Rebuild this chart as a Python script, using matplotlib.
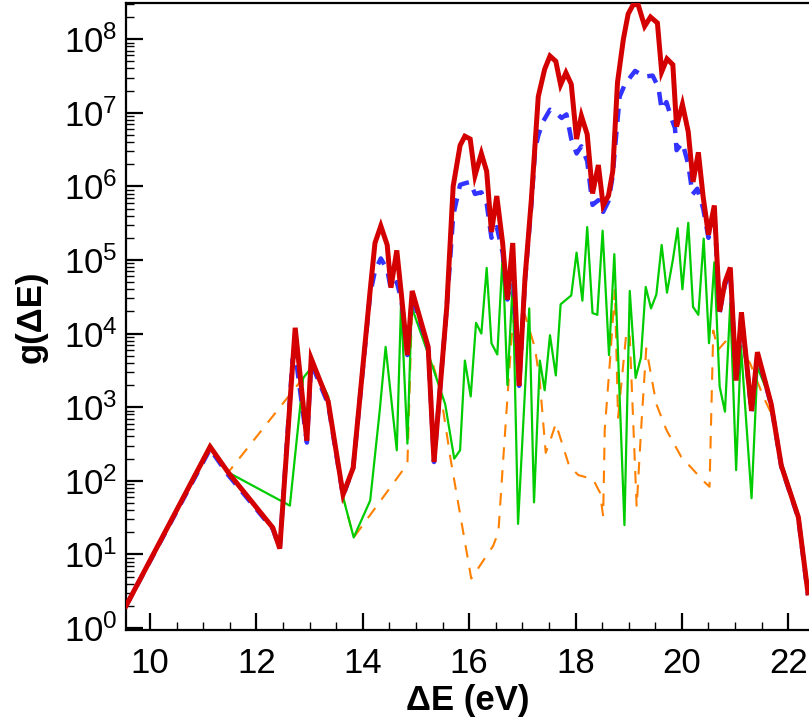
import matplotlib
matplotlib.use("Agg")
import matplotlib.pyplot as plt
from matplotlib.ticker import FixedLocator, LogLocator, MultipleLocator, NullFormatter

# ---------------- data ----------------
red_x = [9.55, 11.13, 11.47, 12.31, 12.44, 12.73, 12.95, 13.03, 13.35, 13.63, 13.82,
         14.14, 14.23, 14.34, 14.46, 14.53, 14.64, 14.73, 14.84, 14.93, 15.23, 15.34,
         15.58, 15.70, 15.83, 15.92, 16.02, 16.11, 16.23, 16.33, 16.42, 16.52, 16.63,
         16.72, 16.82, 16.94, 17.05, 17.17, 17.30, 17.42, 17.52, 17.63, 17.72, 17.82,
         17.92, 18.02, 18.11, 18.22, 18.32, 18.43, 18.52, 18.62, 18.70, 18.79, 18.90,
         18.99, 19.09, 19.18, 19.30, 19.41, 19.54, 19.62, 19.72, 19.83, 19.90, 20.01,
         20.12, 20.21, 20.31, 20.40, 20.50, 20.61, 20.71, 20.81, 20.91, 21.02, 21.12,
         21.31, 21.42, 21.68, 21.87, 22.19, 22.37]
red_y = [2.0, 290, 130, 23, 12, 1.2e4, 350, 4600, 1200, 65, 150,
         3.9e4, 1.7e5, 2.9e5, 1.6e5, 4.2e4, 1.35e5, 3.2e4, 5100, 3.8e4, 6600, 180,
         2.3e4, 1.0e6, 3.6e6, 4.8e6, 4.4e6, 1.4e6, 2.8e6, 1.6e6, 2.4e5, 7.4e5, 1.7e5,
         2.9e4, 1.7e5, 1950, 5.6e4, 6.6e5, 1.66e7, 3.9e7, 5.9e7, 5.0e7, 2.4e7, 3.5e7,
         2.45e7, 4.4e6, 9.1e6, 5.1e6, 8.0e5, 1.95e6, 5.5e5, 7.5e5, 1.6e6, 2.6e7, 1.0e8,
         2.2e8, 3.0e8, 2.9e8, 1.5e8, 2.0e8, 1.66e8, 3.6e7, 5.4e7, 4.5e7, 6.5e6, 1.3e7,
         5.5e6, 1.15e6, 2.9e6, 7.2e5, 2.2e5, 5.5e5, 2.0e4, 5.0e4, 7.9e4, 2300, 1.95e4,
         890, 5600, 1100, 160, 32, 3.0]

blue_x = [9.55, 11.13, 11.47, 12.31, 12.44, 12.68, 12.73, 12.95, 13.03, 13.35, 13.63,
          13.82, 14.14, 14.23, 14.34, 14.46, 14.53, 14.64, 14.73, 14.84, 14.93, 15.23,
          15.34, 15.58, 15.70, 15.83, 15.92, 16.02, 16.11, 16.23, 16.33, 16.42, 16.52,
          16.63, 16.72, 16.82, 16.94, 17.05, 17.17, 17.24, 17.30, 17.39, 17.52, 17.63,
          17.74, 17.83, 17.92, 18.02, 18.11, 18.22, 18.32, 18.43, 18.52, 18.62, 18.70,
          18.74, 18.83, 18.93, 19.12, 19.30, 19.45, 19.56, 19.62, 19.71, 19.80, 19.87,
          19.90, 20.01, 20.12, 20.20, 20.29, 20.40, 20.50, 20.61, 20.71, 20.81, 20.91,
          21.02, 21.12, 21.31, 21.42, 21.68, 21.87, 22.19, 22.37]
blue_y = [2.0, 270, 120, 22, 12, 4400, 5400, 330, 4000, 1100, 62,
          150, 3.5e4, 7.1e4, 1.05e5, 7.4e4, 4.0e4, 5.0e4, 2.8e4, 5100, 3.2e4, 6300,
          180, 2.3e4, 4.0e5, 1.05e6, 1.1e6, 1.15e6, 7.9e5, 8.3e5, 5.8e5, 2.0e5, 2.8e5,
          1.26e5, 2.9e4, 7.1e4, 1950, 5.2e4, 5.6e5, 3.1e6, 4.9e6, 7.6e6, 1.1e7, 1.0e7,
          8.5e6, 9.5e6, 4.4e6, 2.8e6, 3.5e6, 2.2e6, 5.6e5, 6.5e5, 4.5e5, 6.3e5, 1.4e6,
          3.1e6, 1.66e7, 2.45e7, 3.7e7, 3.1e7, 3.2e7, 2.2e7, 1.1e7, 1.4e7, 8.5e6, 6.2e6,
          3.1e6, 3.9e6, 2.0e6, 7.8e5, 9.3e5, 5.0e5, 2.0e5, 4.5e5, 1.95e4, 4.6e4, 7.1e4,
          2100, 1.8e4, 850, 5200, 1070, 155, 31, 2.8]

green_x = [9.55, 11.13, 11.47, 12.63, 12.88, 13.07, 13.35, 13.63, 13.83, 14.14, 14.32,
           14.43, 14.64, 14.72, 14.84, 14.92, 15.26, 15.55, 15.72, 15.83, 15.92, 16.03,
           16.13, 16.23, 16.33, 16.42, 16.53, 16.63, 16.72, 16.82, 16.92, 17.13, 17.22,
           17.33, 17.42, 17.52, 17.63, 17.72, 17.92, 18.02, 18.13, 18.22, 18.32, 18.41,
           18.51, 18.63, 18.73, 18.92, 19.02, 19.13, 19.23, 19.32, 19.42, 19.52, 19.62,
           19.72, 19.83, 19.92, 20.01, 20.12, 20.21, 20.31, 20.41, 20.51, 20.61, 20.71,
           20.81, 20.91, 21.02, 21.11, 21.31, 21.42, 21.68, 21.87, 22.19, 22.37]
green_y = [2.0, 310, 130, 46, 2500, 3700, 1400, 60, 17, 54, 910,
           6600, 260, 2.6e4, 320, 2.3e4, 4600, 1100, 200, 260, 4300, 1400,
           1.4e4, 1.0e4, 7.8e4, 7400, 5200, 1.15e5, 2000, 5.0e4, 26, 2.2e4, 51,
           4300, 1700, 9500, 2700, 2.5e4, 3.3e4, 1.26e5, 2.8e4, 2.8e5, 1.9e4, 1.8e4,
           2.5e5, 5100, 1.2e5, 25, 3.8e4, 2500, 4700, 4.3e4, 2.2e4, 3.4e4, 1.6e5,
           3.6e4, 1.0e5, 2.7e5, 4.0e4, 3.2e5, 2.3e4, 1.8e4, 1.95e5, 7400, 9.3e4, 1900,
           870, 2.6e4, 140, 6900, 58, 3500, 1200, 180, 35, 3.2]

orange_x = [9.55, 11.13, 11.47, 12.88, 13.07, 13.35, 13.63, 13.83, 14.67, 14.84, 14.93,
            15.26, 15.45, 15.65, 16.04, 16.45, 16.55, 16.64, 16.80, 16.86, 16.95, 17.05,
            17.24, 17.33, 17.44, 17.53, 17.63, 17.88, 18.05, 18.33, 18.46, 18.52, 18.55,
            18.65, 18.74, 18.80, 18.86, 18.96, 19.02, 19.15, 19.24, 19.33, 19.52, 19.71,
            19.99, 20.18, 20.40, 20.52, 20.59, 20.68, 20.90, 21.28, 21.53, 21.71, 21.87,
            22.19, 22.37]
orange_y = [2.0, 290, 130, 2500, 3700, 1400, 60, 17, 115, 170, 2.8e4,
            5400, 1800, 200, 4.7, 13, 20, 190, 9300, 2.1e4, 2.3e4, 1.8e4,
            6300, 2200, 240, 360, 600, 160, 120, 105, 69, 33, 500,
            4400, 3.9e4, 720, 2000, 1.1e4, 9100, 44, 600, 6300, 1100, 490,
            210, 150, 100, 83, 1.1e4, 6000, 9100, 4000, 1400, 740, 160,
            32, 3.0]

y_ticks = [1e0, 1e1, 1e2, 1e3, 1e4, 1e5, 1e6, 1e7, 1e8]
x_label = "\u0394E (eV)"
y_label = "g(\u0394E)"

# ---------------- style ----------------
plt.rcParams["font.family"] = ["Liberation Sans", "DejaVu Sans"]
plt.rcParams["mathtext.fontset"] = "custom"
plt.rcParams["mathtext.rm"] = "Liberation Sans"
plt.rcParams["mathtext.it"] = "Liberation Sans:italic"
plt.rcParams["mathtext.bf"] = "Liberation Sans:bold"

fig = plt.figure(figsize=(8.09, 7.21), dpi=100)
W, H = 809, 721
left, right, top, bottom = 126, 809, 3, 630
ax = fig.add_axes([left / W, 1 - bottom / H, (right - left) / W, (bottom - top) / H])

ax.plot(orange_x, orange_y, color="#ff8000", lw=1.5, dashes=(6, 5), zorder=2)
ax.plot(green_x, green_y, color="#00cc00", lw=1.6, zorder=3)
ax.plot(blue_x, blue_y, color="#3333ff", lw=3.2, dashes=(3, 2.2), zorder=4)
ax.plot(red_x, red_y, color="#d40000", lw=3.6, zorder=5, solid_joinstyle="miter")

ax.set_yscale("log")
ax.set_xlim(9.549, 22.39)
ax.set_ylim(0.94, 3.1e8)

ax.xaxis.set_major_locator(MultipleLocator(2))
ax.xaxis.set_minor_locator(MultipleLocator(0.5))
ax.yaxis.set_major_locator(FixedLocator(y_ticks))
ax.yaxis.set_minor_locator(LogLocator(base=10, subs=range(2, 10), numticks=20))
ax.yaxis.set_minor_formatter(NullFormatter())

ax.tick_params(which="major", direction="in", length=12, width=1.6,
               labelsize=25, top=False, right=False)
ax.tick_params(axis="x", which="major", pad=12)
ax.tick_params(axis="y", which="major", pad=6)
ax.tick_params(which="minor", direction="in", length=6, width=1.0, top=False, right=False)

for s in ["left", "bottom", "top"]:
    ax.spines[s].set_linewidth(1.6)
ax.spines["right"].set_visible(False)

ax.set_xlabel(x_label, fontsize=25, fontweight="bold", labelpad=3)
ax.set_ylabel(y_label, fontsize=25, fontweight="bold", labelpad=12)

fig.savefig("out.png", dpi=100)
